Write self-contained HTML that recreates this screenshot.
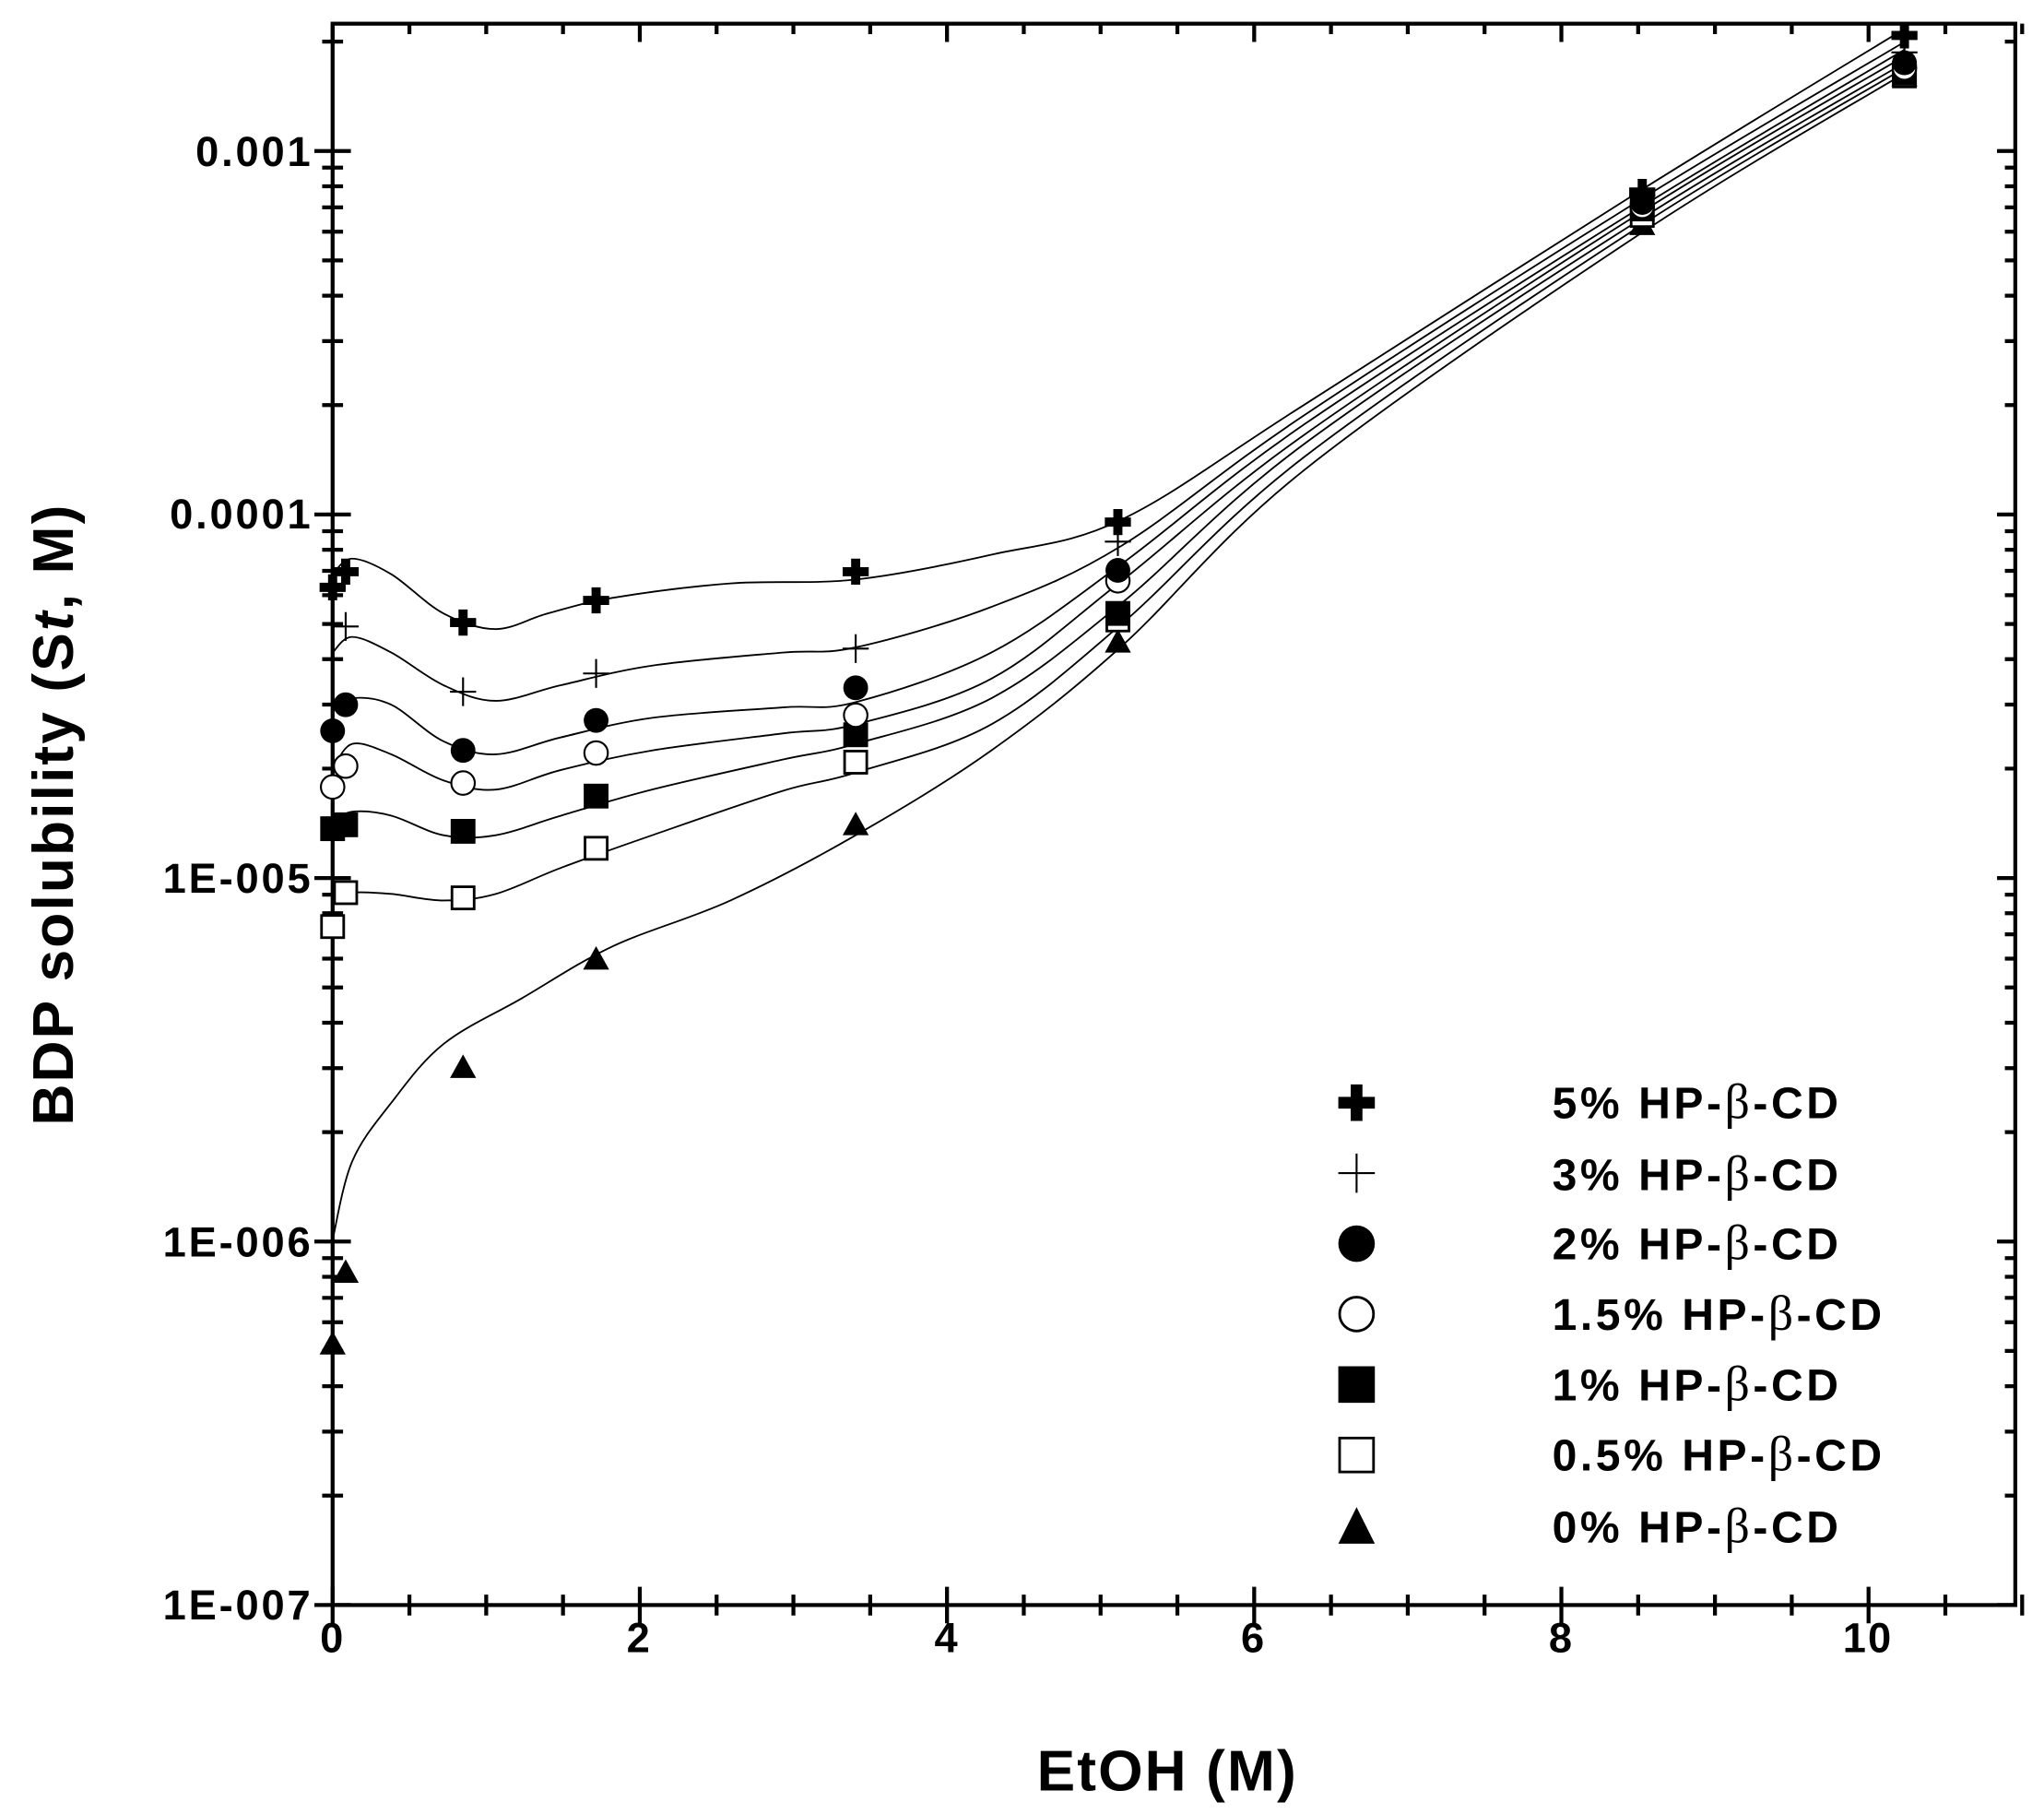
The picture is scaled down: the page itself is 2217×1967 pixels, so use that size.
<!DOCTYPE html>
<html><head><meta charset="utf-8"><style>
html,body{margin:0;padding:0;background:#fff}
svg{display:block}
text{font-family:"Liberation Sans",Arial,sans-serif;font-weight:bold;fill:#000}
</style></head><body>
<svg id="s" width="2217" height="1967" viewBox="0 0 1567 1390" xmlns="http://www.w3.org/2000/svg">
<rect width="1567" height="1390" fill="#fff"/>
<g id="ticks" stroke="#000" stroke-width="3" fill="none"></g>
<rect x="255" y="18" width="1290" height="1212" fill="none" stroke="#000" stroke-width="3"/>
<g font-size="32" text-anchor="middle" letter-spacing="1.5">
<text x="255" y="1266">0</text><text x="490" y="1266">2</text><text x="726" y="1266">4</text>
<text x="961" y="1266">6</text><text x="1197" y="1266">8</text><text x="1432" y="1266">10</text>
</g>
<g font-size="32" text-anchor="end" letter-spacing="2">
<text x="240" y="127">0.001</text><text x="240" y="405">0.0001</text><text x="240" y="684">1E-005</text>
<text x="240" y="963">1E-006</text><text x="240" y="1241">1E-007</text>
</g>
<text x="895" y="1372" font-size="44" text-anchor="middle" letter-spacing="1.5">EtOH (M)</text>
<text transform="translate(56,624) rotate(-90)" font-size="44" text-anchor="middle" letter-spacing="1.5">BDP solubility (S<tspan font-style="italic">t</tspan>, M)</text>
<g id="curves" stroke="#000" stroke-width="1.3" fill="none"></g>
<g id="marks"></g>
<g font-size="34" letter-spacing="2.5">
<text x="1190" y="857">5% HP-<tspan font-family="Liberation Serif" font-weight="normal" font-size="38">β</tspan>-CD</text>
<text x="1190" y="912">3% HP-<tspan font-family="Liberation Serif" font-weight="normal" font-size="38">β</tspan>-CD</text>
<text x="1190" y="965">2% HP-<tspan font-family="Liberation Serif" font-weight="normal" font-size="38">β</tspan>-CD</text>
<text x="1190" y="1019">1.5% HP-<tspan font-family="Liberation Serif" font-weight="normal" font-size="38">β</tspan>-CD</text>
<text x="1190" y="1073">1% HP-<tspan font-family="Liberation Serif" font-weight="normal" font-size="38">β</tspan>-CD</text>
<text x="1190" y="1127">0.5% HP-<tspan font-family="Liberation Serif" font-weight="normal" font-size="38">β</tspan>-CD</text>
<text x="1190" y="1182">0% HP-<tspan font-family="Liberation Serif" font-weight="normal" font-size="38">β</tspan>-CD</text>
</g>
</svg>
<script>
var NS="http://www.w3.org/2000/svg";
function el(p,t,a){var e=document.createElementNS(NS,t);for(var k in a)e.setAttribute(k,a[k]);document.getElementById(p).appendChild(e);return e;}
var d="";
for(var i=0;i<=22;i++){var x=255+i*58.875;var L=(i%4==0)?14:8;d+="M"+x+",1230v"+(-L)+"M"+x+",18v"+L;d+="M"+x+",1230v"+(L);}
for(var dec=0;dec<5;dec++){var yb=1230-dec*278.6;for(var m=1;m<=9;m++){var y=yb-Math.log10(m)*278.6;if(y<18)break;var L=(m==1)?14:8;d+="M255,"+y+"h"+L+"M1545,"+y+"h"+(-L)+"M255,"+y+"h"+(-L);}}
el("ticks","path",{d:d});
var curves=[
[[255,440],[270,428],[300,440],[340,470],[380,482],[420,470],[470,458],[560,447],[656,444],[760,425],[860,398],[1000,310],[1259,145],[1460,22]],
[[255,500],[270,488],[300,500],[340,525],[380,537],[430,525],[500,510],[600,500],[656,496],[760,465],[860,418],[1000,318],[1259,152],[1460,32]],
[[255,545],[270,535],[300,540],[340,568],[380,578],[430,565],[500,550],[600,542],[656,538],[760,500],[860,432],[1000,325],[1259,158],[1460,38]],
[[255,590],[270,570],[300,578],[340,598],[380,605],[430,590],[500,575],[600,562],[656,555],[760,520],[860,445],[1000,333],[1259,162],[1460,43]],
[[255,630],[270,622],[300,625],[340,640],[380,640],[430,625],[500,605],[600,582],[656,570],[760,535],[860,462],[1000,340],[1259,167],[1460,48]],
[[255,690],[270,684],[300,685],[340,690],[380,685],[430,665],[500,640],[600,606],[656,592],[760,555],[860,478],[1000,350],[1259,172],[1460,52]],
[[255,950],[270,890],[300,845],[340,800],[400,765],[470,725],[560,690],[656,640],[760,575],[860,495],[1000,360],[1259,178],[1460,56]]];
curves.forEach(function(p){var s="M"+p[0];for(var i=0;i<p.length-1;i++){var p0=p[i-1]||p[i],p1=p[i],p2=p[i+1],p3=p[i+2]||p2;
s+="C"+(p1[0]+(p2[0]-p0[0])/6)+","+(p1[1]+(p2[1]-p0[1])/6)+" "+(p2[0]-(p3[0]-p1[0])/6)+","+(p2[1]-(p3[1]-p1[1])/6)+" "+p2[0]+","+p2[1];}
el("curves","path",{d:s});});
function mk(t,x,y){
if(t==0){el("marks","path",{d:"M"+(x-3.5)+","+(y-10)+"h7v6.5h6.5v7h-6.5v6.5h-7v-6.5h-6.5v-7h6.5z",fill:"#000"});}
else if(t==1){el("marks","path",{d:"M"+(x-10)+","+y+"h20M"+x+","+(y-11)+"v22",stroke:"#000","stroke-width":"1.5"});}
else if(t==2){el("marks","circle",{cx:x,cy:y,r:9.5,fill:"#000"});}
else if(t==3){el("marks","circle",{cx:x,cy:y,r:9,fill:"#fff",stroke:"#000","stroke-width":"1.5"});}
else if(t==4){el("marks","rect",{x:x-9.5,y:y-9.5,width:19,height:19,fill:"#000"});}
else if(t==5){el("marks","rect",{x:x-8.5,y:y-8.5,width:17,height:17,fill:"#fff",stroke:"#000","stroke-width":"2"});}
else {el("marks","path",{d:"M"+x+","+(y-10)+"L"+(x+10)+","+(y+8)+"L"+(x-10)+","+(y+8)+"z",fill:"#000"});}
}
var pts=[
[[255,450],[265,438],[355,477],[457,460],[656,438],[857,400],[1259,147],[1460,27]],
[[265,480],[355,530],[457,516],[656,497],[857,415],[1259,150],[1460,40]],
[[255,560],[265,540],[355,575],[457,552],[656,527],[857,437],[1259,155],[1460,48]],
[[255,603],[265,587],[355,600],[457,577],[656,548],[857,445],[1259,158],[1460,52]],
[[255,635],[265,632],[355,637],[457,610],[656,563],[857,470],[1259,160],[1460,56]],
[[255,710],[265,684],[355,688],[457,650],[656,584],[857,475],[1259,165],[1460,58]],
[[255,1030],[265,975],[355,818],[457,735],[656,632],[857,492],[1259,172],[1460,58]]];
for(var t=6;t>=0;t--)pts[t].forEach(function(p){mk(t,p[0],p[1]);});
var ly=[845,899,953,1007,1061,1115,1170];
for(var t=0;t<7;t++){var x=1040,y=ly[t];
if(t==0){el("marks","path",{d:"M"+(x-4.5)+","+(y-14)+"h9v9.5h9.5v9h-9.5v9.5h-9v-9.5h-9.5v-9h9.5z",fill:"#000"});}
else if(t==1){el("marks","path",{d:"M"+(x-14)+","+y+"h28M"+x+","+(y-15)+"v30",stroke:"#000","stroke-width":"1.5"});}
else if(t==2){el("marks","circle",{cx:x,cy:y,r:14,fill:"#000"});}
else if(t==3){el("marks","circle",{cx:x,cy:y,r:13,fill:"#fff",stroke:"#000","stroke-width":"2"});}
else if(t==4){el("marks","rect",{x:x-14,y:y-14,width:28,height:28,fill:"#000"});}
else if(t==5){el("marks","rect",{x:x-13,y:y-13,width:26,height:26,fill:"#fff",stroke:"#000","stroke-width":"2"});}
else {el("marks","path",{d:"M"+x+","+(y-15)+"L"+(x+14)+","+(y+13)+"L"+(x-14)+","+(y+13)+"z",fill:"#000"});}
}
</script>
</body></html>
